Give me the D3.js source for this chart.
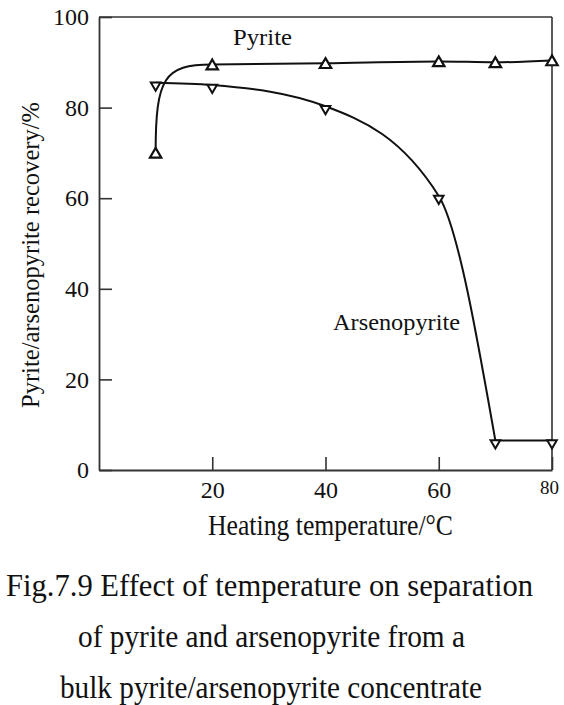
<!DOCTYPE html>
<html>
<head>
<meta charset="utf-8">
<script src="https://cdn.jsdelivr.net/npm/d3@7"></script>
<style>
  body { margin: 0; background: #fff; }
  svg text { font-family: 'Liberation Serif', 'DejaVu Serif', serif; fill: #111; }
</style>
</head>
<body>
<div id="chart"></div>
<script>
// values
const temps = [10, 20, 40, 60, 70, 80];
const pyrite = [70, 89.5, 89.8, 90.2, 90.0, 90.4];
const arsenopyrite = [85.5, 85, 80.3, 60.5, 6.5, 6.5];
const xTicks = [20, 40, 60, 80];
const yTicks = [0, 20, 40, 60, 80, 100];
const captionLines = [
  "Fig.7.9 Effect of temperature on separation",
  "of pyrite and arsenopyrite from a",
  "bulk pyrite/arsenopyrite concentrate"
];

let width = 564, height = 705;
let plotLeft = 99, plotRight = 552, plotTop = 17, plotBottom = 470;
let serif = "'Liberation Serif', 'DejaVu Serif', serif";

let svg = d3.select("#chart")
  .append("svg")
  .attr("width", width)
  .attr("height", height);

let x = d3.scaleLinear().domain([0, 80]).range([plotLeft, plotRight]);
let y = d3.scaleLinear().domain([0, 100]).range([plotBottom, plotTop]);

// frame (top + right)
svg.append("line")
  .attr("x1", plotLeft).attr("x2", plotRight).attr("y1", plotTop).attr("y2", plotTop)
  .attr("stroke", "#333").attr("stroke-width", 1.6);
svg.append("line")
  .attr("x1", plotRight).attr("x2", plotRight).attr("y1", plotTop).attr("y2", plotBottom)
  .attr("stroke", "#333").attr("stroke-width", 1.6);

// axes, ticks point inward
let yAxis = svg.append("g")
  .attr("transform", "translate(" + plotLeft + ",0)")
  .call(d3.axisLeft(y).tickValues(yTicks).tickSize(-13).tickSizeOuter(0).tickPadding(10));
let xAxis = svg.append("g")
  .attr("transform", "translate(0," + plotBottom + ")")
  .call(d3.axisBottom(x).tickValues(xTicks).tickSize(-13).tickSizeOuter(0).tickPadding(11));

[yAxis, xAxis].forEach(function(a){
  a.attr("font-family", null).attr("font-size", null);
  a.select(".domain").attr("stroke", "#333").attr("stroke-width", 1.8);
  a.selectAll(".tick line").attr("stroke", "#333").attr("stroke-width", 1.6);
  a.selectAll(".tick text")
    .attr("font-family", serif)
    .attr("font-size", 24)
    .attr("fill", "#222");
});
// the 80 label is printed smaller in the original
xAxis.selectAll(".tick text")
  .filter(function(d){ return d == 80; })
  .attr("font-size", 19)
  .attr("dx", "-3");

// pyrite curve: first leg rises almost vertically then levels off
let pts = temps.map(function(t, i){ return [x(t), y(pyrite[i])]; });
let p = d3.path();
let k = 0.85;
p.moveTo(pts[0][0], pts[0][1]);
p.bezierCurveTo(
  pts[0][0], pts[0][1] + k * (pts[1][1] - pts[0][1]),
  pts[1][0] - k * (pts[1][0] - pts[0][0]), pts[1][1],
  pts[1][0], pts[1][1]);
svg.append("path")
  .attr("d", p.toString())
  .attr("fill", "none").attr("stroke", "#111").attr("stroke-width", 2);

let lineMono = d3.line().x(function(d){ return d[0]; }).y(function(d){ return d[1]; })
  .curve(d3.curveMonotoneX);
svg.append("path")
  .attr("d", lineMono(pts.slice(1)))
  .attr("fill", "none").attr("stroke", "#111").attr("stroke-width", 2);

// arsenopyrite: smooth fall then sharp corner and flat
let apts = temps.map(function(t, i){ return [x(t), y(arsenopyrite[i])]; });
svg.append("path")
  .attr("d", lineMono(apts.slice(0, 5)))
  .attr("fill", "none").attr("stroke", "#111").attr("stroke-width", 2);
svg.append("path")
  .attr("d", d3.line()(apts.slice(4)))
  .attr("fill", "none").attr("stroke", "#111").attr("stroke-width", 2);

// markers
svg.selectAll(".uptri")
  .data(pts)
.enter().append("path")
  .attr("class", "uptri")
  .attr("transform", function(d){ return "translate(" + d[0] + "," + (d[1] + 1.5) + ")"; })
  .attr("d", d3.symbol().type(d3.symbolTriangle).size(56))
  .attr("fill", "#fff").attr("stroke", "#111").attr("stroke-width", 2.2);

svg.selectAll(".downtri")
  .data(apts)
.enter().append("path")
  .attr("class", "downtri")
  .attr("transform", function(d){ return "translate(" + d[0] + "," + (d[1] + 2.5) + ") rotate(180)"; })
  .attr("d", d3.symbol().type(d3.symbolTriangle).size(40))
  .attr("fill", "#fff").attr("stroke", "#111").attr("stroke-width", 2);

// series labels
svg.append("text")
  .attr("x", 233).attr("y", 45)
  .attr("font-family", serif).attr("font-size", 24)
  .attr("textLength", 59).attr("lengthAdjust", "spacingAndGlyphs")
  .text("Pyrite");
svg.append("text")
  .attr("x", 333).attr("y", 330)
  .attr("font-family", serif).attr("font-size", 24)
  .attr("textLength", 127).attr("lengthAdjust", "spacingAndGlyphs")
  .text("Arsenopyrite");

// axis titles
svg.append("text")
  .attr("x", 208).attr("y", 535)
  .attr("font-family", serif).attr("font-size", 30)
  .attr("textLength", 245).attr("lengthAdjust", "spacingAndGlyphs")
  .text("Heating temperature/°C");
svg.append("text")
  .attr("transform", "translate(39,255) rotate(-90)")
  .attr("text-anchor", "middle")
  .attr("font-family", serif).attr("font-size", 25)
  .attr("textLength", 306).attr("lengthAdjust", "spacingAndGlyphs")
  .text("Pyrite/arsenopyrite recovery/%");

// caption
let capX = [6, 78, 60];
let capLen = [527, 387, 422];
svg.selectAll(".caption")
  .data(captionLines)
.enter().append("text")
  .attr("class", "caption")
  .attr("x", function(d, i){ return capX[i]; })
  .attr("y", function(d, i){ return 596 + i * 51; })
  .attr("font-family", serif).attr("font-size", 32)
  .attr("textLength", function(d, i){ return capLen[i]; })
  .attr("lengthAdjust", "spacingAndGlyphs")
  .text(function(d){ return d; });
</script>
</body>
</html>
